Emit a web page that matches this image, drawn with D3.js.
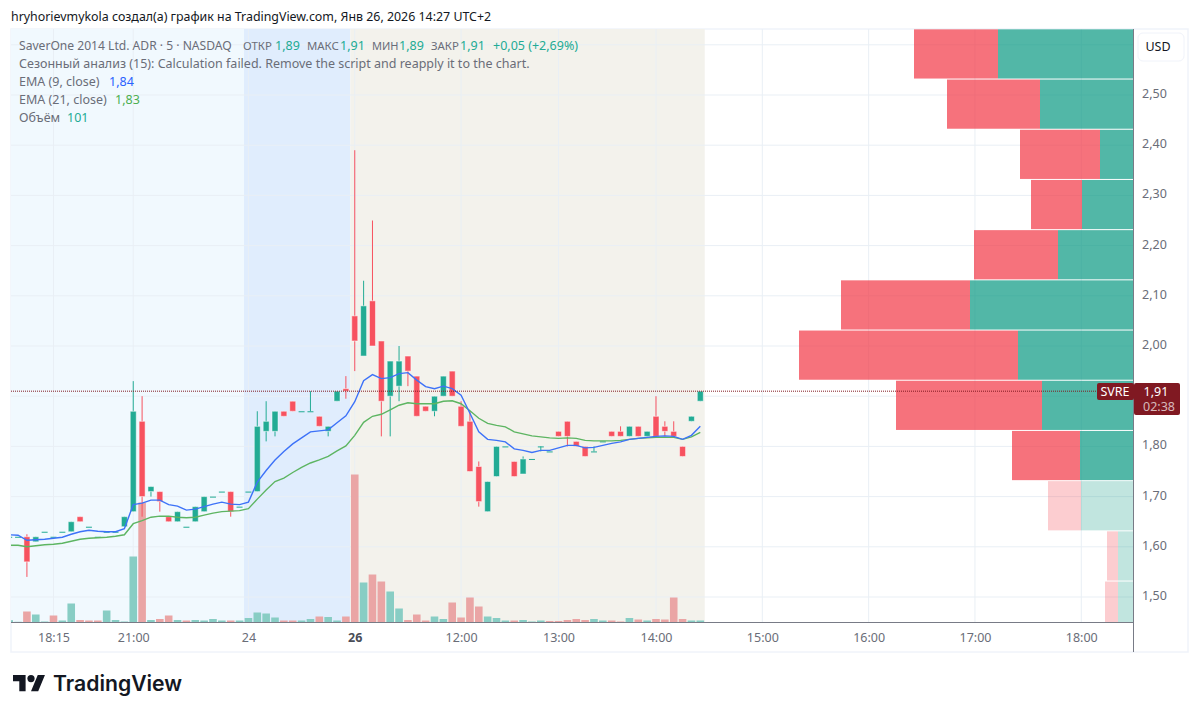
<!DOCTYPE html>
<html>
<head>
<meta charset="utf-8">
<script src="https://cdn.jsdelivr.net/npm/d3@7"></script>
<style>
  html, body { margin: 0; padding: 0; background: #fff; }
  text { font-family: "Noto Sans", sans-serif; }
</style>
</head>
<body>
<div id="chart"></div>
<script>
// candles, 5 min bars
var candleOpen = [1.62,1.62,1.62,1.61,1.63,1.62,1.63,1.63,1.66,1.64,
  1.62,1.63,1.63,1.64,1.67,1.85,1.71,1.71,1.66,1.65,
  1.64,1.65,1.67,1.70,1.71,1.71,1.68,1.71,1.71,1.83,
  1.83,1.87,1.89,1.87,1.87,1.86,1.83,1.89,1.915,2.06,
  1.98,2.09,2.01,1.90,1.92,1.98,1.94,1.88,1.87,1.90,
  1.95,1.88,1.85,1.76,1.67,1.74,1.80,1.77,1.745,1.775,
  1.80,1.79,1.83,1.85,1.81,1.80,1.79,1.81,1.83,1.83,
  1.82,1.84,1.82,1.86,1.84,1.83,1.80,1.85,1.89];
var candleClose = [1.62,1.62,1.57,1.62,1.63,1.62,1.63,1.65,1.65,1.64,
  1.62,1.63,1.63,1.66,1.87,1.70,1.72,1.69,1.65,1.67,
  1.64,1.68,1.70,1.70,1.71,1.67,1.68,1.71,1.84,1.85,
  1.87,1.86,1.87,1.87,1.87,1.84,1.84,1.91,1.91,2.01,
  2.08,2.00,1.89,1.97,1.97,1.95,1.86,1.87,1.90,1.94,
  1.90,1.84,1.75,1.69,1.73,1.80,1.80,1.74,1.775,1.775,
  1.80,1.79,1.82,1.82,1.80,1.78,1.79,1.81,1.82,1.82,
  1.84,1.82,1.83,1.82,1.83,1.82,1.78,1.86,1.91];
var candleHigh = [1.62,1.62,1.625,1.62,1.63,1.62,1.63,1.65,1.66,1.64,
  1.62,1.63,1.63,1.66,1.93,1.90,1.72,1.71,1.66,1.67,
  1.64,1.68,1.70,1.70,1.71,1.71,1.68,1.71,1.87,1.89,
  1.87,1.87,1.89,1.87,1.91,1.86,1.84,1.91,1.94,2.39,
  2.13,2.25,2.01,1.97,2.00,1.98,1.94,1.88,1.90,1.94,
  1.95,1.89,1.87,1.77,1.73,1.80,1.80,1.77,1.78,1.775,
  1.80,1.79,1.83,1.85,1.81,1.80,1.80,1.81,1.83,1.84,
  1.84,1.84,1.83,1.90,1.85,1.85,1.80,1.86,1.91];
var candleLow = [1.62,1.62,1.54,1.61,1.63,1.62,1.63,1.63,1.65,1.64,
  1.62,1.63,1.63,1.64,1.67,1.66,1.70,1.67,1.65,1.65,
  1.64,1.65,1.67,1.70,1.71,1.66,1.68,1.71,1.71,1.81,
  1.82,1.86,1.87,1.87,1.87,1.84,1.82,1.89,1.895,1.95,
  1.98,2.00,1.82,1.82,1.89,1.92,1.86,1.87,1.86,1.90,
  1.90,1.84,1.75,1.68,1.67,1.74,1.80,1.74,1.745,1.775,
  1.79,1.79,1.82,1.80,1.80,1.78,1.79,1.81,1.82,1.82,
  1.82,1.82,1.82,1.82,1.82,1.82,1.78,1.85,1.89];

var ema9 = [1.624,1.623,1.613,1.614,1.615,1.617,1.619,1.625,1.630,1.633,
  1.631,1.630,1.630,1.636,1.684,1.687,1.693,1.693,1.684,1.681,
  1.673,1.675,1.680,1.685,1.689,1.685,1.684,1.689,1.729,1.752,
  1.773,1.790,1.805,1.817,1.829,1.831,1.833,1.847,1.861,1.889,
  1.931,1.943,1.935,1.937,1.945,1.947,1.932,1.919,1.915,1.920,
  1.915,1.902,1.866,1.829,1.814,1.812,1.809,1.795,1.792,1.788,
  1.792,1.792,1.797,1.802,1.802,1.797,1.798,1.802,1.806,1.809,
  1.814,1.816,1.818,1.820,1.821,1.820,1.814,1.822,1.840];
var ema21 = [1.603,1.603,1.600,1.602,1.604,1.605,1.607,1.611,1.615,1.617,
  1.618,1.619,1.621,1.624,1.646,1.652,1.659,1.661,1.661,1.659,
  1.658,1.659,1.663,1.667,1.670,1.671,1.672,1.676,1.695,1.713,
  1.730,1.737,1.748,1.758,1.767,1.773,1.780,1.791,1.801,1.822,
  1.848,1.860,1.864,1.873,1.882,1.887,1.885,1.885,1.885,1.890,
  1.891,1.885,1.871,1.856,1.846,1.842,1.839,1.829,1.825,1.821,
  1.819,1.817,1.816,1.817,1.816,1.812,1.811,1.811,1.811,1.812,
  1.814,1.816,1.817,1.818,1.818,1.818,1.814,1.819,1.828];

var volume = [115,35,550,400,50,350,100,950,125,100,
  100,600,125,50,3300,6000,125,175,350,125,
  100,125,100,175,100,100,100,225,500,450,
  250,100,100,100,175,300,275,100,300,7400,
  2000,2400,2050,1550,700,125,400,100,300,175,
  1000,250,1250,800,300,225,100,100,125,50,
  100,75,75,125,175,125,175,100,100,50,
  225,150,100,175,150,1250,175,100,101];
// bars whose volume column is green, all others are red
var volumeUpBars = [0,1,3,4,6,7,11,12,13,14,16,19,21,22,23,24,26,27,28,29,30,33,34,36,37,
  40,43,44,48,49,54,55,56,58,59,60,66,67,70,72,77,78];

// session shading, by bar number
var sessionNames = ["pre", "regular", "post"];
var sessionFirstBar = [-1, 27, 39];
var sessionLastBar = [26, 38, 78];

// visible range volume profile, rows are 0.10 wide
var profileRowLow = [2.53,2.43,2.33,2.23,2.13,2.03,1.93,1.83,1.73,1.63,1.53,1.43];
var profileUp = [135,93,33,51,75,163,115,91,53,52,15,15];
var profileDown = [84,93,80,51,84,129,219,146,68,33,11,13];
var profileInValueArea = [1,1,1,1,1,1,1,1,1,0,0,0];

// 1,90 is left out, the price tag sits on it
var priceTicks = [1.5,1.6,1.7,1.8,2.0,2.1,2.2,2.3,2.4,2.5];
var gridPrices = [1.5,1.6,1.7,1.8,1.9,2.0,2.1,2.2,2.3,2.4,2.5,2.6];
var timeTickBars = [5,14,27,39,51,62,73,85,97,109,121];
var timeTickLabels = ["18:15","21:00","24","26","12:00","13:00","14:00","15:00","16:00","17:00","18:00"];
var lastPrice = 1.91;

var upColor = "#22AB94", downColor = "#F7525F";
var gridColor = "#E9EFF5", frameColor = "#F0F3FA", axisLine = "#787B86", axisText = "#6A6D78";

var plot = { left: 11, right: 1133, top: 29, bottom: 623 };

var svg = d3.select("#chart").append("svg")
  .attr("width", 1200).attr("height", 716)
  .style("display", "block");

var x = d3.scaleLinear().domain([0, 78]).range([9.2, 700.3]);
var y = d3.scaleLinear().domain([1.5, 2.5]).range([597, 95]);
var yVol = d3.scaleLinear().domain([0, 7500]).range([622.5, 472.5]);
var xProfile = d3.scaleLinear().domain([0, 400]).range([1133, 733]);

svg.append("defs").append("clipPath").attr("id", "plotClip").append("rect")
  .attr("x", plot.left).attr("y", plot.top)
  .attr("width", plot.right - plot.left).attr("height", plot.bottom - plot.top);

// title line
svg.append("text").attr("x", 11).attr("y", 21)
  .attr("font-size", 12.4).attr("fill", "#131722")
  .text("hryhorievmykola создал(а) график на TradingView.com, Янв 26, 2026 14:27 UTC+2");

// outer frame
svg.append("rect").attr("x", 11).attr("y", 29).attr("width", 1177).attr("height", 623)
  .attr("fill", "none").attr("stroke", frameColor).attr("stroke-width", 1.5);

var chart = svg.append("g").attr("clip-path", "url(#plotClip)");

// sessions
var sessionColor = { pre: "#F1F9FE", regular: "#E0EDFD", post: "#F3F2EC" };
chart.selectAll("rect.session").data(sessionNames).enter().append("rect")
  .attr("class", "session")
  .attr("x", function(d, i) { return x(sessionFirstBar[i] - 0.5); })
  .attr("width", function(d, i) { return x(sessionLastBar[i] + 0.5) - x(sessionFirstBar[i] - 0.5); })
  .attr("y", plot.top).attr("height", plot.bottom - plot.top)
  .attr("fill", function(d) { return sessionColor[d]; });

// grid
chart.selectAll("line.hgrid").data(gridPrices).enter().append("line")
  .attr("class", "hgrid")
  .attr("x1", plot.left).attr("x2", plot.right)
  .attr("y1", function(d) { return y(d); }).attr("y2", function(d) { return y(d); })
  .attr("stroke", gridColor).attr("stroke-width", 1);
chart.selectAll("line.vgrid").data(timeTickBars).enter().append("line")
  .attr("class", "vgrid")
  .attr("x1", function(d) { return x(d); }).attr("x2", function(d) { return x(d); })
  .attr("y1", plot.top).attr("y2", plot.bottom)
  .attr("stroke", gridColor).attr("stroke-width", 1);

// volume profile
var profile = chart.selectAll("g.row").data(profileRowLow).enter().append("g").attr("class", "row");
profile.append("rect")
  .attr("x", function(d, i) { return xProfile(profileUp[i]); })
  .attr("width", function(d, i) { return xProfile(0) - xProfile(profileUp[i]); })
  .attr("y", function(d) { return y(d + 0.1) - 0.4; })
  .attr("height", function(d) { return y(d) - y(d + 0.1) - 1; })
  .attr("fill", "#089981")
  .attr("fill-opacity", function(d, i) { return profileInValueArea[i] ? 0.7 : 0.25; });
profile.append("rect")
  .attr("x", function(d, i) { return xProfile(profileUp[i] + profileDown[i]); })
  .attr("width", function(d, i) { return xProfile(profileUp[i]) - xProfile(profileUp[i] + profileDown[i]); })
  .attr("y", function(d) { return y(d + 0.1) - 0.4; })
  .attr("height", function(d) { return y(d) - y(d + 0.1) - 1; })
  .attr("fill", "#F23645")
  .attr("fill-opacity", function(d, i) { return profileInValueArea[i] ? 0.7 : 0.25; });

// volume columns
chart.selectAll("rect.vol").data(volume).enter().append("rect")
  .attr("class", "vol")
  .attr("x", function(d, i) { return x(i) - 3.8; })
  .attr("width", 7.6)
  .attr("y", function(d) { return yVol(d); })
  .attr("height", function(d) { return yVol(0) - yVol(d); })
  .attr("fill", function(d, i) { return volumeUpBars.indexOf(i) >= 0 ? "#88CDC4" : "#EAA5A5"; });

// candles
var isUp = function(i) { return candleClose[i] >= candleOpen[i]; };
var candle = chart.selectAll("g.candle").data(candleOpen).enter().append("g").attr("class", "candle");
candle.append("line")
  .attr("x1", function(d, i) { return x(i); }).attr("x2", function(d, i) { return x(i); })
  .attr("y1", function(d, i) { return y(candleHigh[i]); })
  .attr("y2", function(d, i) { return y(candleLow[i]); })
  .attr("stroke", function(d, i) { return isUp(i) ? upColor : downColor; })
  .attr("stroke-width", 1);
candle.append("rect")
  .attr("x", function(d, i) { return x(i) - 3; })
  .attr("width", 6)
  .attr("y", function(d, i) { return y(Math.max(candleOpen[i], candleClose[i])); })
  .attr("height", function(d, i) { return Math.max(1, Math.abs(y(candleOpen[i]) - y(candleClose[i]))); })
  .attr("fill", function(d, i) { return isUp(i) ? upColor : downColor; })
  .attr("stroke", "#fff").attr("stroke-opacity", function(d, i) { return candleOpen[i] == candleClose[i] ? 0 : 0.5; })
  .attr("stroke-width", 1);

// EMA lines
var emaLine = d3.line().x(function(d, i) { return x(i); }).y(function(d) { return y(d); });
chart.append("path").attr("d", emaLine(ema21)).attr("fill", "none").attr("stroke", "#5DB562").attr("stroke-width", 1.4);
chart.append("path").attr("d", emaLine(ema9)).attr("fill", "none").attr("stroke", "#3D72F8").attr("stroke-width", 1.4);

// last price line
svg.append("line")
  .attr("x1", plot.left).attr("x2", plot.right)
  .attr("y1", y(lastPrice)).attr("y2", y(lastPrice))
  .attr("stroke", "#801922").attr("stroke-width", 1).attr("stroke-dasharray", "1 1");

// axis rules
svg.append("line").attr("x1", plot.left).attr("x2", plot.right)
  .attr("y1", plot.bottom - 0.5).attr("y2", plot.bottom - 0.5)
  .attr("stroke", axisLine).attr("stroke-width", 1);
svg.append("line").attr("x1", plot.right + 0.5).attr("x2", plot.right + 0.5)
  .attr("y1", plot.top).attr("y2", 652)
  .attr("stroke", axisLine).attr("stroke-width", 1);

// price axis
var priceAxis = d3.axisRight(y).tickValues(priceTicks)
  .tickFormat(function(d) { return d.toFixed(2).replace(".", ","); })
  .tickSize(0).tickPadding(9);
var priceG = svg.append("g").attr("transform", "translate(" + plot.right + ",0)").call(priceAxis);
priceG.select(".domain").remove();
priceG.selectAll("text").attr("font-size", 12.5).attr("fill", axisText).attr("dy", "0.2em")
  .style("font-family", '"Noto Sans", sans-serif');

// time axis
var timeAxis = d3.axisBottom(x).tickValues(timeTickBars)
  .tickFormat(function(d, i) { return timeTickLabels[i]; })
  .tickSize(0).tickPadding(10);
var timeG = svg.append("g").attr("transform", "translate(0," + plot.bottom + ")").call(timeAxis);
timeG.select(".domain").remove();
timeG.selectAll("text").attr("font-size", 12.5).attr("fill", axisText)
  .style("font-family", '"Noto Sans", sans-serif')
  .filter(function(d, i) { return timeTickLabels[i] == "26"; })
  .attr("font-weight", 700).attr("fill", "#4A4D57");

// legend
var legendColor = "#6A6D78", ohlcColor = "#22AB94";
var legend = svg.append("g").attr("font-size", 12.5);
var legendRuns = [
  [19, 50, "SaverOne 2014 Ltd. ADR · 5 · NASDAQ", legendColor, 12.1],
  [243, 50, "ОТКР", legendColor, 11.4], [275, 50, "1,89", ohlcColor],
  [307, 50, "МАКС", legendColor, 11.4], [340, 50, "1,91", ohlcColor],
  [372, 50, "МИН", legendColor, 11], [399, 50, "1,89", ohlcColor],
  [431, 50, "ЗАКР", legendColor, 11.4], [460, 50, "1,91", ohlcColor],
  [493, 50, "+0,05 (+2,69%)", ohlcColor],
  [19, 68, "Сезонный анализ (15): Calculation failed. Remove the script and reapply it to the chart.", legendColor],
  [19, 86, "EMA (9, close)", legendColor], [109, 86, "1,84", "#2962FF"],
  [19, 104, "EMA (21, close)", legendColor], [115, 104, "1,83", "#4CAF50"],
  [19, 122, "Объём", legendColor], [67, 122, "101", ohlcColor]
];
legendRuns.forEach(function(r) {
  var t = legend.append("text").attr("x", r[0]).attr("y", r[1]).attr("fill", r[3]).text(r[2]);
  if (r[4]) t.attr("font-size", r[4]);
});

// USD button
svg.append("rect").attr("x", 1138).attr("y", 33).attr("width", 46).attr("height", 28).attr("rx", 5)
  .attr("fill", "#fff").attr("stroke", frameColor);
svg.append("text").attr("x", 1158).attr("y", 50.5).attr("text-anchor", "middle")
  .attr("font-size", 12.5).attr("fill", "#131722").text("USD");

// symbol and price tags
svg.append("rect").attr("x", 1097).attr("y", 383).attr("width", 37).attr("height", 17).attr("rx", 2).attr("fill", "#801922");
svg.append("text").attr("x", 1115).attr("y", 396).attr("text-anchor", "middle")
  .attr("font-size", 12.5).attr("fill", "#fff").text("SVRE");
svg.append("rect").attr("x", 1134).attr("y", 383).attr("width", 46).attr("height", 32).attr("rx", 2).attr("fill", "#801922");
svg.append("text").attr("x", 1156).attr("y", 395.5).attr("text-anchor", "middle")
  .attr("font-size", 12.5).attr("fill", "#fff").text("1,91");
svg.append("text").attr("x", 1159).attr("y", 410.5).attr("text-anchor", "middle")
  .attr("font-size", 12.5).attr("fill", "#fff").attr("fill-opacity", 0.7).text("02:38");

// logo
var logo = svg.append("g").attr("transform", "translate(13,671.4) scale(0.9)").attr("fill", "#131722");
logo.append("path").attr("d", "M14 22H7V11H0V4h14v18zM28 22h-8l7.5-18h8L28 22z");
logo.append("circle").attr("cx", 20).attr("cy", 8).attr("r", 4);
svg.append("text").attr("x", 53).attr("y", 691).attr("font-size", 21.2).attr("font-weight", 600)
  .attr("fill", "#131722").style("font-family", "Inter, sans-serif").text("TradingView");
</script>
</body>
</html>
